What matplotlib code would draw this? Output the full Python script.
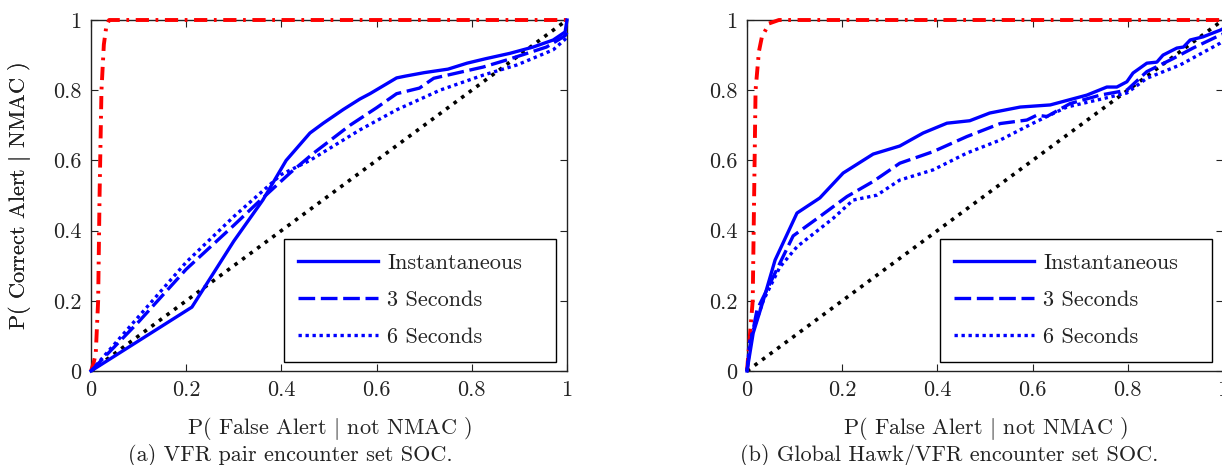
import matplotlib
matplotlib.use("Agg")
import matplotlib.pyplot as plt

plt.rcParams['font.family'] = 'serif'
plt.rcParams['font.serif'] = ['cmr10', 'DejaVu Serif']
plt.rcParams['mathtext.fontset'] = 'cm'
plt.rcParams['axes.formatter.use_mathtext'] = True

FS = 16

# ---------------- data: (a) VFR pair encounter set ----------------
a_red_x = [0, 0.005, 0.01, 0.015, 0.018, 0.022, 0.027, 0.032, 0.038, 1.0]
a_red_y = [0, 0.02, 0.05, 0.2, 0.5, 0.8, 0.93, 0.98, 1.0, 1.0]

a_inst_x = [0, 0.212, 0.30, 0.361, 0.41, 0.46, 0.488, 0.53, 0.565, 0.586, 0.642, 0.66,
            0.70, 0.75, 0.79, 0.83, 0.88, 0.929, 0.971, 0.996, 1.0]
a_inst_y = [0, 0.182, 0.37, 0.487, 0.60, 0.678, 0.706, 0.745, 0.775, 0.79, 0.835, 0.84,
            0.85, 0.86, 0.877, 0.89, 0.905, 0.923, 0.943, 0.966, 1.0]

a_3s_x = [0, 0.05, 0.1, 0.2, 0.3, 0.349, 0.418, 0.467, 0.544, 0.6, 0.642, 0.69, 0.72,
          0.824, 0.873, 0.957, 0.996, 1.0]
a_3s_y = [0, 0.07, 0.14, 0.29, 0.415, 0.478, 0.564, 0.62, 0.70, 0.75, 0.79, 0.806, 0.834,
          0.866, 0.886, 0.923, 0.955, 0.965]

a_6s_x = [0, 0.1, 0.2, 0.3, 0.4, 0.46, 0.565, 0.642, 0.733, 0.824, 0.895, 0.971, 0.996, 1.0]
a_6s_y = [0, 0.155, 0.31, 0.44, 0.56, 0.60, 0.687, 0.744, 0.80, 0.843, 0.872, 0.915, 0.945, 0.955]

# ---------------- data: (b) Global Hawk/VFR encounter set ----------------
b_red_x = [0, 0.003, 0.012, 0.015, 0.018, 0.025, 0.031, 0.046, 0.067, 1.0]
b_red_y = [0, 0.05, 0.2, 0.5, 0.8, 0.91, 0.95, 0.99, 1.0, 1.0]

b_inst_x = [0, 0.013, 0.034, 0.059, 0.105, 0.153, 0.202, 0.265, 0.321, 0.37, 0.42, 0.468,
            0.51, 0.574, 0.637, 0.714, 0.756, 0.777, 0.798, 0.811, 0.84, 0.861, 0.874,
            0.903, 0.917, 0.931, 0.958, 0.994, 1.0]
b_inst_y = [0, 0.108, 0.2, 0.316, 0.45, 0.493, 0.564, 0.618, 0.641, 0.678, 0.706, 0.713,
            0.735, 0.752, 0.758, 0.786, 0.809, 0.809, 0.824, 0.849, 0.877, 0.88, 0.90,
            0.92, 0.923, 0.943, 0.952, 0.971, 0.975]

b_3s_x = [0, 0.006, 0.021, 0.055, 0.097, 0.153, 0.21, 0.265, 0.321, 0.391, 0.462, 0.532,
          0.588, 0.609, 0.63, 0.679, 0.742, 0.798, 0.84, 0.895, 0.937, 0.994, 1.0]
b_3s_y = [0, 0.07, 0.174, 0.268, 0.385, 0.44, 0.497, 0.54, 0.592, 0.625, 0.668, 0.705,
          0.715, 0.729, 0.725, 0.762, 0.786, 0.80, 0.853, 0.89, 0.92, 0.957, 0.96]

b_6s_x = [0, 0.006, 0.034, 0.069, 0.105, 0.181, 0.223, 0.273, 0.321, 0.391, 0.462, 0.532,
          0.601, 0.63, 0.672, 0.742, 0.798, 0.84, 0.91, 0.994, 1.0]
b_6s_y = [0, 0.088, 0.2, 0.296, 0.354, 0.435, 0.487, 0.501, 0.544, 0.573, 0.621, 0.658,
          0.706, 0.725, 0.752, 0.774, 0.792, 0.834, 0.872, 0.934, 0.94]

diag = [0, 1]
ticks = [0, 0.2, 0.4, 0.6, 0.8, 1.0]
tick_labels = ['0', '0.2', '0.4', '0.6', '0.8', '1']
series_labels = ['Instantaneous', '3 Seconds', '6 Seconds']

xlabel = r'P( False Alert $|$ not NMAC )'
ylabel = r'P( Correct Alert $|$ NMAC )'
captions = ['(a) VFR pair encounter set SOC.', '(b) Global Hawk/VFR encounter set SOC.']

W, H = 1222, 465
fig = plt.figure(figsize=(W / 100, H / 100), dpi=100)

panels = [
    (91, a_red_x, a_red_y, a_inst_x, a_inst_y, a_3s_x, a_3s_y, a_6s_x, a_6s_y, 290),
    (747, b_red_x, b_red_y, b_inst_x, b_inst_y, b_3s_x, b_3s_y, b_6s_x, b_6s_y, 949),
]

TXT = '#222222'
for i, (x0, rx, ry, ix, iy, tx, ty, sx, sy, capx) in enumerate(panels):
    ax = fig.add_axes([x0 / W, (H - 371) / H, 476 / W, 351 / H])
    ax.plot(diag, diag, color='black', lw=2.6, linestyle=(0, (1, 1.6)), clip_on=False, zorder=2)
    ax.plot(rx, ry, color='red', lw=2.8, linestyle=(0, (3.4, 1.7, 0.7, 1.7)), clip_on=False, zorder=3)
    l1, = ax.plot(ix, iy, color='blue', lw=2.4, linestyle='-', clip_on=False, zorder=4)
    l2, = ax.plot(tx, ty, color='blue', lw=2.4, linestyle=(0, (5.0, 1.7)), clip_on=False, zorder=4)
    l3, = ax.plot(sx, sy, color='blue', lw=2.4, linestyle=(0, (1, 1.1)), clip_on=False, zorder=4)
    ax.set_xlim(0, 1)
    ax.set_ylim(0, 1)
    ax.set_xticks(ticks)
    ax.set_xticklabels(tick_labels)
    ax.set_yticks(ticks)
    ax.set_yticklabels(tick_labels)
    ax.tick_params(direction='in', top=True, right=True, length=5, width=0.8,
                   labelsize=FS, pad=7, colors=TXT, labelcolor=TXT)
    for sp in ax.spines.values():
        sp.set_linewidth(1.0)
        sp.set_color(TXT)
    ax.set_ylabel(ylabel, fontsize=FS, color=TXT)
    ax.yaxis.set_label_coords((33 - x0) / 476, 0.5)
    ax.set_xlabel(xlabel, fontsize=FS, color=TXT)
    ax.xaxis.set_label_coords(0.5, (371 - 415) / 351)
    leg = ax.legend([l1, l2, l3], series_labels, loc='lower left',
                    bbox_to_anchor=(0.405, 0.026, 0.572, 0.344), mode='expand',
                    borderaxespad=0,
                    fontsize=FS, frameon=True, fancybox=False, framealpha=1,
                    edgecolor='black', handlelength=3.6, handletextpad=0.4,
                    labelspacing=0.79, borderpad=0.66)
    leg.get_frame().set_linewidth(1.0)
    for t in leg.get_texts():
        t.set_color(TXT)
    fig.text(capx / W, 1 - 455 / H, captions[i], fontsize=FS, ha='center', va='center',
             color=TXT)

fig.savefig('out.png', dpi=100)
